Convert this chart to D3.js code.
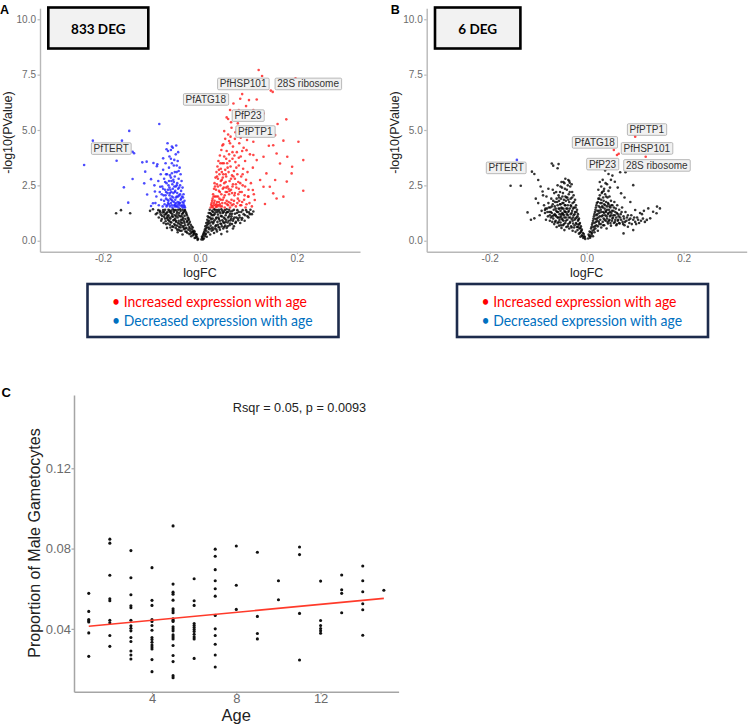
<!DOCTYPE html>
<html lang="en">
<head>
    <meta charset="UTF-8">
    <title>Volcano plots and gametocyte proportion</title>
    <script src="https://cdn.jsdelivr.net/npm/d3@7"></script>
    <style>
        body { margin: 0; background: #fff; }
    </style>
</head>
<body>
<script>
    // ---------- data: panel A (833 DEG), [logFC, -log10(PValue)] ----------
    let blackA = [
        [-0.004,0.08],[-0.006,0.15],[-0.008,0.22],[-0.009,0.3],[-0.011,0.12],[-0.012,0.35],[-0.013,0.45],[-0.014,0.25],[-0.015,0.6],[-0.016,0.38],
        [-0.017,0.52],[-0.018,0.2],[-0.019,0.72],[-0.02,0.44],[-0.021,0.85],[-0.022,0.3],[-0.022,0.62],[-0.023,0.95],[-0.024,0.5],[-0.025,1.05],
        [-0.025,0.72],[-0.026,0.35],[-0.027,1.15],[-0.027,0.85],[-0.028,0.58],[-0.029,1.28],[-0.03,0.98],[-0.03,0.42],[-0.031,1.38],[-0.031,0.7],
        [-0.032,1.12],[-0.033,0.88],[-0.033,0.52],[-0.034,1.3],[-0.035,1.02],[-0.035,0.65],[-0.036,1.4],[-0.037,0.8],[-0.037,1.2],[-0.038,0.45],
        [-0.039,0.95],[-0.04,1.34],[-0.04,0.6],[-0.041,1.1],[-0.042,0.75],[-0.043,1.25],[-0.044,0.9],[-0.044,0.5],[-0.045,1.4],[-0.046,1.05],
        [-0.047,0.68],[-0.048,1.22],[-0.049,0.85],[-0.05,1.38],[-0.05,0.58],[-0.051,1.0],[-0.052,1.15],[-0.053,0.75],[-0.054,1.3],[-0.055,0.92],
        [-0.056,1.42],[-0.057,0.65],[-0.058,1.1],[-0.059,0.82],[-0.06,1.25],[-0.061,1.0],[-0.062,0.72],[-0.063,1.36],[-0.064,0.9],[-0.065,1.15],
        [-0.066,0.78],[-0.067,1.3],[-0.068,1.02],[-0.07,1.2],[-0.071,0.88],[-0.072,1.4],[-0.074,1.08],[-0.075,0.8],[-0.077,1.28],[-0.079,0.98],
        [-0.081,1.18],[-0.083,1.35],[-0.085,1.05],[-0.088,1.25],[-0.091,1.2],[-0.068,0.58],[-0.058,0.48],[-0.046,0.38],[-0.036,0.28],
        [-0.005,0.04],[-0.007,0.28],[-0.009,0.14],[-0.011,0.42],[-0.013,0.3],[-0.015,0.42],[-0.017,0.64],[-0.019,0.33],[-0.021,0.55],[-0.023,0.78],
        [-0.024,1.0],[-0.026,0.9],[-0.028,1.22],[-0.028,0.4],[-0.03,0.55],[-0.032,0.8],[-0.032,1.35],[-0.034,0.6],[-0.036,0.95],[-0.038,1.1],
        [-0.039,0.7],[-0.041,0.45],[-0.041,1.42],[-0.043,0.62],[-0.045,0.8],[-0.047,1.3],[-0.047,0.5],[-0.049,1.1],[-0.051,0.7],[-0.053,1.38],
        [-0.053,0.95],[-0.055,0.62],[-0.057,1.2],[-0.059,1.35],[-0.061,0.6],[-0.061,0.85],[-0.063,1.05],[-0.065,1.4],[-0.066,0.95],[-0.069,1.25],
        [-0.07,0.75],[-0.072,1.0],[-0.073,1.18],[-0.076,1.38],[-0.078,1.12],[-0.08,0.9],[-0.082,1.28],[-0.086,1.38],[-0.05,0.9],[-0.044,1.15],
        [-0.04,0.85],[-0.035,1.25],[-0.056,1.08],[-0.062,1.3],[-0.067,1.1],[-0.074,1.3],
        [-0.173,1.24],[-0.163,1.38],[-0.144,1.24],[-0.103,1.35],[-0.097,1.42],
        [0.003,0.06],[0.005,0.14],[0.006,0.24],[0.008,0.1],[0.008,0.36],[0.01,0.5],[0.01,0.2],[0.011,0.65],[0.012,0.32],[0.013,0.8],
        [0.013,0.45],[0.014,0.18],[0.015,0.95],[0.015,0.6],[0.016,1.1],[0.017,0.38],[0.017,0.75],[0.018,1.25],[0.019,0.9],[0.019,0.52],
        [0.02,1.4],[0.021,1.05],[0.021,0.28],[0.022,0.68],[0.023,1.2],[0.024,0.85],[0.024,0.45],[0.025,1.35],[0.026,1.0],[0.026,0.6],
        [0.027,0.78],[0.028,1.15],[0.029,0.35],[0.029,1.42],[0.03,0.92],[0.031,0.55],[0.032,1.28],[0.033,0.7],[0.034,1.05],[0.035,0.42],
        [0.035,1.38],[0.036,0.85],[0.037,1.18],[0.038,0.62],[0.039,0.98],[0.04,1.32],[0.041,0.5],[0.042,0.78],[0.043,1.12],[0.044,1.42],
        [0.045,0.65],[0.046,0.92],[0.047,1.25],[0.048,0.55],[0.049,1.05],[0.05,0.8],[0.051,1.38],[0.052,0.68],[0.053,1.15],[0.054,0.95],
        [0.055,0.58],[0.056,1.3],[0.057,0.82],[0.058,1.05],[0.06,1.4],[0.061,0.7],[0.062,1.2],[0.063,0.92],[0.065,1.1],[0.066,0.75],
        [0.067,1.35],[0.069,0.98],[0.07,0.65],[0.072,1.22],[0.074,0.85],[0.075,1.05],[0.077,1.38],[0.079,0.92],[0.081,1.15],[0.083,0.8],
        [0.085,1.3],[0.087,1.02],[0.09,1.2],[0.092,0.9],[0.095,1.38],[0.098,1.1],[0.101,1.28],[0.104,1.4],[0.107,1.2],[0.11,1.32],
        [0.044,0.3],[0.056,0.42],[0.068,0.55],
        [0.004,0.18],[0.006,0.06],[0.007,0.3],[0.009,0.42],[0.011,0.28],[0.012,0.55],[0.014,0.7],[0.016,0.85],[0.018,0.6],[0.018,1.05],
        [0.02,0.8],[0.021,1.25],[0.023,0.55],[0.023,0.98],[0.025,1.15],[0.027,0.5],[0.027,1.3],[0.028,0.85],[0.03,1.2],[0.031,1.4],
        [0.032,0.65],[0.033,1.0],[0.034,0.5],[0.036,1.3],[0.037,0.72],[0.038,1.05],[0.039,1.4],[0.04,0.6],[0.041,0.9],[0.042,1.25],
        [0.044,0.75],[0.045,1.1],[0.046,1.35],[0.048,0.85],[0.049,1.3],[0.05,0.62],[0.051,1.0],[0.053,0.85],[0.054,1.25],[0.055,1.42],
        [0.057,0.65],[0.058,1.3],[0.059,0.9],[0.06,1.1],[0.062,0.78],[0.063,1.32],[0.064,1.0],[0.066,1.22],[0.068,0.9],[0.07,1.4],
        [0.071,1.05],[0.073,0.8],[0.076,1.25],[0.078,1.0],[0.08,1.3],[0.082,1.05],[0.086,0.95],[0.088,1.38],[0.093,1.15],[0.097,1.3],
        [0.1,1.05],[0.103,1.2]
    ];
    let redA = [
        [0.022,1.5],[0.024,1.7],[0.025,1.55],[0.026,1.9],[0.027,2.1],[0.028,1.6],[0.029,2.35],[0.03,1.8],[0.03,2.6],[0.031,2.0],
        [0.032,2.85],[0.033,1.52],[0.033,2.3],[0.034,3.1],[0.035,1.75],[0.035,2.55],[0.036,3.35],[0.037,2.0],[0.037,2.8],[0.038,1.6],
        [0.038,3.6],[0.039,2.25],[0.04,3.0],[0.04,1.9],[0.041,3.85],[0.042,2.5],[0.042,1.55],[0.043,3.25],[0.044,2.1],[0.044,4.1],
        [0.045,2.75],[0.046,1.7],[0.046,3.5],[0.047,2.35],[0.048,4.35],[0.048,3.0],[0.049,1.95],[0.05,2.6],[0.05,3.8],[0.051,1.5],
        [0.052,3.2],[0.052,4.6],[0.053,2.2],[0.054,2.9],[0.055,4.05],[0.055,1.8],[0.056,3.5],[0.057,2.45],[0.058,4.8],[0.058,1.6],
        [0.059,3.1],[0.06,2.1],[0.06,3.9],[0.061,2.7],[0.062,1.5],[0.062,4.4],[0.063,3.35],[0.064,2.3],[0.065,5.1],[0.065,1.85],
        [0.066,2.95],[0.067,3.7],[0.068,2.55],[0.068,4.25],[0.069,1.65],[0.07,3.15],[0.071,2.05],[0.072,4.6],[0.072,2.8],[0.073,3.55],
        [0.074,1.55],[0.075,2.4],[0.076,4.0],[0.077,3.0],[0.078,1.9],[0.078,5.3],[0.079,2.65],[0.08,3.4],[0.081,4.4],[0.082,2.2],
        [0.083,1.6],[0.084,3.8],[0.085,2.9],[0.086,4.9],[0.087,1.75],[0.088,2.5],[0.089,3.25],[0.09,4.2],[0.092,2.05],[0.093,3.6],
        [0.094,1.5],[0.095,2.75],[0.097,4.55],[0.098,3.1],[0.1,2.3],[0.102,1.7],[0.103,3.9],[0.105,2.6],[0.107,1.55],[0.109,3.3],
        [0.111,2.1],[0.034,1.65],[0.041,2.2],[0.047,1.85],[0.053,2.65],[0.059,2.35],[0.066,2.15],[0.071,3.85],[0.08,2.35],[0.063,4.7],
        [0.058,5.5],[0.05,4.95],[0.07,5.6],[0.076,5.0],[0.084,4.65],
        [0.023,1.62],[0.025,1.8],[0.027,1.5],[0.028,2.0],[0.029,1.7],[0.031,2.45],[0.032,1.6],[0.034,2.0],[0.035,2.9],[0.036,1.55],
        [0.037,2.45],[0.039,1.75],[0.039,3.2],[0.041,1.65],[0.043,2.7],[0.043,1.85],[0.045,1.55],[0.045,3.1],[0.047,2.85],[0.049,2.4],
        [0.049,3.5],[0.051,2.05],[0.052,1.7],[0.053,3.0],[0.054,2.4],[0.056,1.65],[0.056,2.2],[0.057,3.3],[0.059,1.75],[0.061,2.25],
        [0.061,3.6],[0.063,1.7],[0.064,2.8],[0.066,1.6],[0.067,2.45],[0.069,2.9],[0.07,1.8],[0.072,2.15],[0.074,2.55],[0.075,3.3],
        [0.077,1.7],[0.079,2.1],[0.081,1.8],[0.083,2.6],[0.085,1.6],[0.086,2.2],[0.088,3.0],[0.091,1.85],[0.093,2.45],[0.096,1.65],
        [0.099,2.0],[0.042,3.5],[0.046,4.3],[0.054,3.7],[0.06,4.5],[0.067,4.0],[0.073,4.9],[0.08,3.75],[0.087,4.05],[0.064,5.35],
        [0.121,7.71],[0.128,7.44],[0.104,7.23],[0.137,6.93],[0.146,6.78],[0.15,6.72],[0.087,6.62],[0.101,6.35],[0.117,6.38],[0.083,6.41],
        [0.069,6.2],[0.197,7.33],[0.178,5.48],[0.16,5.27],[0.131,5.75],[0.11,5.9],[0.095,6.08],[0.08,5.9],[0.062,5.9],[0.055,5.57],
        [0.107,5.57],[0.141,4.92],[0.155,4.77],[0.172,4.52],[0.142,4.29],[0.151,4.31],[0.203,4.47],[0.158,3.94],[0.18,3.79],[0.213,3.64],
        [0.19,3.34],[0.131,3.79],[0.117,3.64],[0.137,3.04],[0.155,2.74],[0.124,2.74],[0.179,2.67],[0.213,2.26],[0.151,2.14],[0.158,1.91],
        [0.172,1.99],[0.131,2.44],[0.113,1.84],[0.134,1.66],[0.109,2.29],[0.1,1.99],[0.144,2.44],[0.189,3.04],[0.165,3.49],[0.11,4.47],
        [0.124,4.85],[0.096,4.09],[0.11,3.87]
    ];
    let blueA = [
        [-0.031,1.5],[-0.032,1.8],[-0.033,1.6],[-0.034,2.1],[-0.035,1.5],[-0.036,2.4],[-0.036,1.75],[-0.037,2.0],[-0.038,2.7],[-0.038,1.55],
        [-0.039,2.25],[-0.04,3.0],[-0.04,1.85],[-0.041,2.5],[-0.042,1.6],[-0.042,3.3],[-0.043,2.05],[-0.044,2.8],[-0.044,1.5],[-0.045,2.35],
        [-0.046,3.6],[-0.046,1.75],[-0.047,2.6],[-0.048,2.0],[-0.048,3.1],[-0.049,1.55],[-0.05,2.45],[-0.05,3.9],[-0.051,1.85],[-0.052,2.9],
        [-0.052,2.2],[-0.053,1.6],[-0.054,3.4],[-0.054,2.65],[-0.055,1.95],[-0.056,2.35],[-0.056,4.2],[-0.057,1.5],[-0.058,3.05],[-0.058,2.0],
        [-0.059,2.7],[-0.06,1.7],[-0.06,3.7],[-0.061,2.3],[-0.062,1.55],[-0.062,2.95],[-0.063,2.05],[-0.064,3.3],[-0.065,1.8],[-0.065,2.5],
        [-0.066,4.05],[-0.067,2.15],[-0.068,1.6],[-0.068,3.0],[-0.069,2.6],[-0.07,1.9],[-0.071,3.5],[-0.072,2.3],[-0.073,1.65],[-0.074,2.8],
        [-0.075,2.05],[-0.076,3.2],[-0.077,1.55],[-0.078,2.45],[-0.08,1.85],[-0.081,3.0],[-0.083,2.2],[-0.085,1.6],[-0.086,2.7],[-0.088,3.45],
        [-0.09,2.0],[-0.092,1.7],[-0.094,2.5],[-0.043,1.72],[-0.047,2.15],[-0.051,1.65],[-0.055,2.75],[-0.059,1.85],[-0.063,2.4],[-0.066,1.7],
        [-0.07,2.2],[-0.053,3.65],[-0.049,4.3],[-0.045,4.0],[-0.06,4.1],
        [-0.032,1.55],[-0.034,1.7],[-0.035,1.95],[-0.037,1.6],[-0.039,1.9],[-0.041,1.7],[-0.041,2.1],[-0.043,2.4],[-0.045,1.65],[-0.045,2.0],
        [-0.047,1.55],[-0.048,2.5],[-0.049,1.95],[-0.05,1.7],[-0.051,2.25],[-0.052,1.55],[-0.053,2.45],[-0.054,1.75],[-0.055,2.15],[-0.057,1.8],
        [-0.057,2.55],[-0.058,1.6],[-0.059,2.2],[-0.06,2.85],[-0.061,1.9],[-0.062,2.15],[-0.064,1.65],[-0.064,2.7],[-0.066,2.3],[-0.067,1.85],
        [-0.069,1.55],[-0.071,2.05],[-0.072,2.65],[-0.074,1.8],[-0.076,2.35],[-0.079,2.1],[-0.052,3.1],[-0.048,3.4],[-0.058,3.5],[-0.044,3.15],
        [-0.063,3.8],[-0.07,3.0],
        [-0.221,4.52],[-0.239,3.42],[-0.172,3.61],[-0.161,4.52],[-0.146,4.96],[-0.139,4.02],[-0.136,3.95],[-0.157,2.41],[-0.148,1.72],[-0.139,2.79],
        [-0.084,5.27],[-0.119,3.54],[-0.11,3.57],[-0.113,3.12],[-0.115,2.59],[-0.109,2.09],[-0.101,2.78],[-0.096,3.51],[-0.089,3.36],[-0.093,2.22],
        [-0.097,1.69],[-0.101,1.57],[-0.067,4.4],[-0.069,4.13],[-0.058,4.25],[-0.076,3.72],[-0.082,2.44]
    ];
    // gene labels: name, label centre logFC, label centre -log10(PValue)
    let labelsA = [
        ["PfHSP101",0.089,7.08],["28S ribosome",0.223,7.08],["PfATG18",0.012,6.38],
        ["PfP23",0.099,5.65],["PfPTP1",0.114,4.93],["PfTERT",-0.183,4.16]
    ];

    // ---------- data: panel B (6 DEG) ----------
    let blackB = [
        [-0.003,0.08],[-0.005,0.2],[-0.007,0.12],[-0.008,0.35],[-0.01,0.5],[-0.01,0.25],[-0.012,0.65],[-0.012,0.4],[-0.013,0.18],[-0.014,0.8],
        [-0.015,0.55],[-0.016,1.0],[-0.016,0.32],[-0.017,0.72],[-0.018,1.2],[-0.018,0.9],[-0.019,0.48],[-0.02,1.4],[-0.02,0.62],[-0.021,1.05],
        [-0.022,1.6],[-0.022,0.8],[-0.023,0.4],[-0.024,1.3],[-0.024,1.85],[-0.025,0.95],[-0.026,0.6],[-0.026,1.5],[-0.027,2.05],[-0.027,1.15],
        [-0.028,0.78],[-0.029,1.7],[-0.029,0.45],[-0.03,1.35],[-0.03,2.2],[-0.031,0.98],[-0.032,1.55],[-0.032,0.65],[-0.033,1.9],[-0.033,1.2],
        [-0.034,2.45],[-0.034,0.85],[-0.035,1.45],[-0.036,1.75],[-0.036,0.55],[-0.037,1.05],[-0.037,2.1],[-0.038,1.3],[-0.038,0.75],[-0.039,1.6],
        [-0.04,1.95],[-0.04,0.95],[-0.041,1.2],[-0.041,2.3],[-0.042,0.62],[-0.042,1.45],[-0.043,1.8],[-0.043,1.05],[-0.044,0.8],[-0.044,2.0],
        [-0.045,1.3],[-0.045,1.6],[-0.046,0.48],[-0.046,2.6],[-0.047,1.15],[-0.047,1.85],[-0.048,0.9],[-0.048,1.45],[-0.049,2.15],[-0.049,0.7],
        [-0.05,1.25],[-0.05,1.7],[-0.051,1.0],[-0.051,2.4],[-0.052,0.58],[-0.052,1.5],[-0.053,1.9],[-0.053,1.1],[-0.054,0.82],[-0.054,1.35],
        [-0.055,2.2],[-0.055,1.65],[-0.056,0.95],[-0.056,1.2],[-0.057,0.68],[-0.057,1.8],[-0.058,1.45],[-0.058,2.05],[-0.059,1.05],[-0.06,0.8],
        [-0.06,1.6],[-0.061,1.3],[-0.062,0.62],[-0.062,1.9],[-0.063,1.1],[-0.064,1.45],[-0.064,0.9],[-0.065,1.75],[-0.066,1.2],[-0.067,0.75],
        [-0.067,2.15],[-0.068,1.4],[-0.069,1.0],[-0.07,1.65],[-0.071,0.85],[-0.072,1.25],[-0.073,1.9],[-0.074,1.05],[-0.075,1.5],[-0.076,0.9],
        [-0.077,1.3],[-0.079,1.7],[-0.08,1.1],[-0.082,1.45],[-0.084,0.95],[-0.086,1.25],[-0.088,1.6],[-0.09,2.05],[-0.093,1.35],[-0.036,2.7],
        [-0.044,2.8],[-0.052,2.65],[-0.06,2.5],[-0.07,2.3],[-0.031,2.55],
        [-0.004,0.15],[-0.006,0.3],[-0.009,0.2],[-0.011,0.45],[-0.013,0.58],[-0.014,0.35],[-0.015,0.75],[-0.017,0.95],[-0.018,0.62],[-0.019,1.1],
        [-0.021,0.75],[-0.021,1.3],[-0.023,1.0],[-0.023,1.5],[-0.025,0.7],[-0.025,1.2],[-0.026,1.75],[-0.028,1.05],[-0.028,1.45],[-0.029,0.9],
        [-0.03,1.95],[-0.031,1.25],[-0.031,0.6],[-0.033,1.6],[-0.034,1.05],[-0.035,2.2],[-0.035,0.8],[-0.037,1.35],[-0.038,1.85],[-0.039,0.65],
        [-0.039,1.15],[-0.04,1.45],[-0.042,1.95],[-0.043,0.9],[-0.043,1.3],[-0.044,1.6],[-0.046,1.05],[-0.046,1.35],[-0.047,0.75],[-0.048,1.7],
        [-0.049,1.2],[-0.05,2.0],[-0.05,0.95],[-0.051,1.45],[-0.052,1.2],[-0.053,0.7],[-0.054,1.65],[-0.055,1.05],[-0.056,1.45],[-0.057,1.95],
        [-0.058,0.85],[-0.059,1.3],[-0.06,1.05],[-0.061,1.75],[-0.063,1.35],[-0.064,1.15],[-0.065,0.85],[-0.066,1.55],[-0.068,1.15],[-0.069,1.8],
        [-0.071,1.1],[-0.072,1.55],[-0.074,1.3],[-0.076,1.15],[-0.078,1.5],[-0.081,1.3],[-0.085,1.45],[-0.045,2.35],[-0.039,2.5],[-0.054,2.45],
        [-0.063,2.2],[-0.048,2.65],
        [-0.157,2.48],[-0.136,2.48],[-0.113,3.12],[-0.108,3.01],[-0.1,2.74],[-0.122,1.28],[-0.108,1.01],[-0.1,1.7],[-0.091,2.22],[-0.086,1.39],
        [-0.072,3.49],[-0.069,3.39],[-0.058,3.46],[-0.06,3.27],[-0.038,2.74],[-0.035,2.62],[-0.095,2.45],[-0.083,2.0],[-0.079,2.35],[-0.105,1.9],
        [-0.115,0.95],[-0.097,1.15],
        [0.003,0.1],[0.005,0.22],[0.007,0.14],[0.008,0.38],[0.009,0.55],[0.01,0.28],[0.011,0.72],[0.012,0.45],[0.013,0.9],[0.013,0.2],
        [0.014,0.62],[0.015,1.1],[0.016,0.8],[0.016,0.38],[0.017,1.3],[0.018,0.98],[0.018,0.55],[0.019,1.5],[0.02,1.15],[0.02,0.7],
        [0.021,1.7],[0.022,0.9],[0.022,1.35],[0.023,0.45],[0.024,1.9],[0.024,1.05],[0.025,1.55],[0.026,0.75],[0.026,1.25],[0.027,2.05],
        [0.028,0.95],[0.028,1.7],[0.029,1.4],[0.03,0.6],[0.03,1.85],[0.031,1.1],[0.032,1.55],[0.032,2.2],[0.033,0.85],[0.034,1.3],
        [0.034,1.95],[0.035,1.0],[0.036,1.65],[0.036,0.7],[0.037,1.45],[0.038,2.1],[0.038,1.15],[0.039,0.9],[0.04,1.75],[0.04,1.3],
        [0.041,0.55],[0.042,1.55],[0.042,1.0],[0.043,1.95],[0.044,1.2],[0.044,0.78],[0.045,1.65],[0.046,1.4],[0.047,0.95],[0.047,2.0],
        [0.048,1.1],[0.049,1.5],[0.05,0.68],[0.05,1.8],[0.051,1.25],[0.052,0.9],[0.053,1.6],[0.054,1.05],[0.055,1.35],[0.056,0.8],
        [0.057,1.75],[0.058,1.15],[0.059,0.95],[0.06,1.45],[0.061,0.7],[0.062,1.25],[0.063,1.6],[0.064,0.9],[0.066,1.1],[0.067,1.4],
        [0.068,0.78],[0.07,1.2],[0.071,0.95],[0.073,1.5],[0.074,0.85],[0.076,1.1],[0.078,0.7],[0.08,1.3],[0.082,0.9],[0.085,1.15],
        [0.088,0.8],[0.09,1.0],[0.093,0.75],[0.096,0.95],[0.1,0.85],[0.104,1.05],[0.108,0.8],[0.112,0.9],[0.116,1.0],[0.12,0.85],
        [0.024,2.3],[0.03,2.45],[0.036,2.35],[0.042,2.55],[0.027,2.65],[0.045,2.25],
        [0.004,0.28],[0.006,0.42],[0.008,0.2],[0.01,0.62],[0.011,0.35],[0.012,0.8],[0.014,1.0],[0.015,0.5],[0.016,1.2],[0.017,0.65],
        [0.018,1.4],[0.019,0.85],[0.02,1.6],[0.021,1.0],[0.022,1.2],[0.023,1.75],[0.023,0.65],[0.025,1.35],[0.025,0.85],[0.026,1.9],
        [0.027,1.1],[0.028,1.5],[0.029,0.75],[0.03,1.3],[0.031,1.7],[0.031,2.15],[0.033,1.15],[0.033,1.5],[0.034,0.7],[0.035,1.8],
        [0.036,1.25],[0.037,0.95],[0.038,1.6],[0.039,1.35],[0.04,2.0],[0.041,1.1],[0.042,1.4],[0.043,0.85],[0.044,1.7],[0.045,1.25],
        [0.046,0.9],[0.047,1.55],[0.048,1.3],[0.049,0.8],[0.05,1.15],[0.051,1.6],[0.052,1.35],[0.053,1.0],[0.055,1.15],[0.056,1.5],
        [0.058,0.85],[0.059,1.3],[0.061,1.05],[0.062,0.75],[0.064,1.2],[0.065,0.95],[0.067,0.8],[0.069,1.05],[0.072,1.3],[0.075,0.75],
        [0.077,1.0],[0.079,0.85],[0.083,1.05],[0.087,0.95],[0.092,1.15],[0.098,1.05],[0.102,0.75],[0.106,0.95],[0.114,1.2],[0.035,2.25],
        [0.039,2.6],[0.033,2.75],[0.048,2.4],
        [0.038,3.17],[0.045,3.01],[0.053,2.94],[0.069,3.09],[0.08,3.09],[0.085,3.47],[0.096,2.51],[0.058,2.66],[0.071,2.14],[0.1,1.39],
        [0.127,1.46],[0.137,1.31],[0.144,1.24],[0.151,1.46],[0.145,1.54],[0.124,0.94],[0.131,1.01],[0.085,0.63],[0.096,0.48],[0.076,0.33],
        [0.064,2.4],[0.05,2.75],[0.078,1.95],[0.09,1.75],[0.11,1.25],[0.118,1.35]
    ];
    let redB = [[0.1,4.7],[0.056,4.1],[0.0625,3.87],[0.066,3.93],[0.1217,3.79]];
    let blueB = [[-0.144,3.65]];
    let labelsB = [
        ["PfPTP1",0.124,5.02],["PfATG18",0.0165,4.44],["PfHSP101",0.124,4.17],
        ["PfP23",0.0326,3.46],["28S ribosome",0.1445,3.4],["PfTERT",-0.166,3.29]
    ];

    // shared volcano axes
    let yTicksVolcano = [0, 2.5, 5, 7.5, 10];
    let xTicksVolcano = [-0.2, 0, 0.2];

    // ---------- data: panel C ----------
    let ages = [1,2,3,4,5,6,7,8,9,10,11,12,13,14,15];
    let maleProp = [
        [0.0577,0.0487,0.0447,0.044,0.0434,0.038,0.0263],
        [0.0847,0.0827,0.0667,0.055,0.054,0.0443,0.043,0.0367,0.0313],
        [0.079,0.0655,0.057,0.0515,0.0505,0.0443,0.0415,0.0403,0.039,0.0357,0.0337,0.029,0.027,0.025],
        [0.0705,0.0542,0.0517,0.0447,0.0437,0.0417,0.0393,0.0357,0.0347,0.0333,0.032,0.031,0.030,0.0247,0.0187],
        [0.0913,0.0623,0.0583,0.0573,0.0543,0.050,0.049,0.048,0.045,0.0443,0.0437,0.041,0.040,0.039,0.037,0.036,0.035,0.0317,0.0267,0.0237,0.0167,0.0157],
        [0.065,0.054,0.0517,0.0427,0.0417,0.0407,0.0397,0.0387,0.0373,0.036,0.035,0.0253],
        [0.0797,0.0762,0.0695,0.064,0.060,0.0563,0.0467,0.040,0.0367,0.0323,0.027,0.021],
        [0.0813,0.0617,0.0497],
        [0.0782,0.0462,0.0377,0.035],
        [0.064,0.0545],
        [0.0808,0.077,0.0477,0.0245],
        [0.0638,0.0442,0.0417,0.0402,0.039,0.0378],
        [0.0668,0.0595,0.0577,0.048],
        [0.0713,0.064,0.0585,0.0525,0.0495,0.0368],
        [0.0592]
    ];
    let fitAge = [1, 15];
    let fitProp = [0.0413, 0.0552];
    let xTicksAge = [4, 8, 12];
    let yTicksProp = [0.04, 0.08, 0.12];

    let sans = "'Liberation Sans', Arial, sans-serif";
    let office = "Lato, 'Open Sans', sans-serif";
    let axisGray = '#b8b8b8';
    let tickText = '#6b6b6b';

    let svg = d3.select('body').append('svg')
        .attr('width', 750)
        .attr('height', 726)
        .style('background-color', '#fff');

    // draw one volcano panel
    function volcano(left, letter, black, red, blue, labels, degText, degWidth, legendX) {
        let g = svg.append('g');
        let xScale = d3.scaleLinear().domain([-0.33, 0.33]).range([left, left + 320]);
        let yScale = d3.scaleLinear().domain([-0.5, 10.5]).range([251.8, 8.2]);

        let xAxis = g.append('g')
            .attr('transform', 'translate(0,' + 251.8 + ')')
            .call(d3.axisBottom(xScale).tickValues(xTicksVolcano)
                .tickFormat(d => d.toFixed(1)).tickSizeInner(2.5).tickSizeOuter(0).tickPadding(0.5));
        let yAxis = g.append('g')
            .attr('transform', 'translate(' + left + ',0)')
            .call(d3.axisLeft(yScale).tickValues(yTicksVolcano)
                .tickFormat(d => d.toFixed(1)).tickSizeInner(2.5).tickSizeOuter(0).tickPadding(1.5));
        [xAxis, yAxis].forEach(a => {
            a.select('.domain').attr('stroke', axisGray).attr('stroke-width', 1.4);
            a.selectAll('.tick line').attr('stroke', axisGray).attr('stroke-width', 1.2);
            a.selectAll('.tick text').attr('fill', tickText)
                .style('font-family', sans).style('font-size', '10px');
        });

        // points, grey first then coloured
        let layers = [[black, '#000'], [blue, '#1f1fff'], [red, '#ff1a1a']];
        layers.forEach(l => {
            g.append('g').selectAll('circle').data(l[0]).enter()
                .append('circle')
                .attr('cx', d => xScale(d[0]))
                .attr('cy', d => yScale(d[1]))
                .attr('r', 1.3)
                .attr('fill', l[1])
                .attr('fill-opacity', 0.8);
        });

        // gene labels
        labels.forEach(lb => {
            let lg = g.append('g');
            let t = lg.append('text')
                .attr('x', xScale(lb[1]))
                .attr('y', yScale(lb[2]))
                .attr('text-anchor', 'middle')
                .attr('dominant-baseline', 'central')
                .style('font-family', sans)
                .style('font-size', '10px')
                .attr('fill', '#333')
                .text(lb[0]);
            let bb = t.node().getBBox();
            lg.insert('rect', 'text')
                .attr('x', bb.x - 2.2).attr('y', bb.y - 0.3)
                .attr('width', bb.width + 4.4).attr('height', bb.height + 0.6)
                .attr('rx', 1.2)
                .attr('fill', '#f1f1f1')
                .attr('stroke', '#a8a8a8')
                .attr('stroke-width', 0.8);
        });

        // axis titles
        g.append('text')
            .attr('transform', 'translate(' + (left - 28) + ',132.5) rotate(-90)')
            .attr('text-anchor', 'middle')
            .style('font-family', sans).style('font-size', '12.5px')
            .attr('fill', '#222')
            .text('-log10(PValue)');
        g.append('text')
            .attr('x', xScale(0)).attr('y', 276.5)
            .attr('text-anchor', 'middle')
            .style('font-family', sans).style('font-size', '12.5px')
            .attr('fill', '#222')
            .text('logFC');

        // panel letter
        g.append('text')
            .attr('x', left - 40 + (letter === 'B' ? 4 : 0)).attr('y', 13.5)
            .style('font-family', sans).style('font-size', '12.5px').style('font-weight', 'bold')
            .text(letter);

        // DEG count box
        let bx = left + 8.3;
        g.append('rect')
            .attr('x', bx).attr('y', 7.5)
            .attr('width', degWidth).attr('height', 41)
            .attr('fill', '#f2f2f2')
            .attr('stroke', '#000')
            .attr('stroke-width', 2.6);
        g.append('text')
            .attr('x', bx + degWidth / 2).attr('y', 28.5)
            .attr('text-anchor', 'middle')
            .attr('dominant-baseline', 'central')
            .style('font-family', office).style('font-size', '13.5px').style('font-weight', 'bold')
            .text(degText);

        // colour key box under the panel
        g.append('rect')
            .attr('x', legendX).attr('y', 284)
            .attr('width', 251).attr('height', 53)
            .attr('fill', '#fff')
            .attr('stroke', '#1d2b4c')
            .attr('stroke-width', 2.6);
        g.append('text')
            .attr('x', legendX + 24.5).attr('y', 307.3)
            .attr('textLength', 195).attr('lengthAdjust', 'spacingAndGlyphs')
            .style('font-family', office).style('font-size', '15px')
            .attr('fill', '#ff0000')
            .text('\u2022 Increased expression with age');
        g.append('text')
            .attr('x', legendX + 24.5).attr('y', 326)
            .attr('textLength', 200.5).attr('lengthAdjust', 'spacingAndGlyphs')
            .style('font-family', office).style('font-size', '15px')
            .attr('fill', '#0070c0')
            .text('\u2022 Decreased expression with age');
    }

    volcano(40, 'A', blackA, redA, blueA, labelsA, '833 DEG', 100, 87.5);
    volcano(426.7, 'B', blackB, redB, blueB, labelsB, '6 DEG', 85.4, 457);

    // ---------- panel C ----------
    let gc = svg.append('g');
    let ageScale = d3.scaleLinear().domain([0.3, 15.7]).range([74, 398.6]);
    let propScale = d3.scaleLinear().domain([0.0087, 0.1565]).range([691.7, 395]);

    let axC = gc.append('g')
        .attr('transform', 'translate(0,691.7)')
        .call(d3.axisBottom(ageScale).tickValues(xTicksAge)
            .tickSizeInner(2.5).tickSizeOuter(0).tickPadding(0));
    let ayC = gc.append('g')
        .attr('transform', 'translate(74,0)')
        .call(d3.axisLeft(propScale).tickValues(yTicksProp)
            .tickFormat(d => d.toFixed(2)).tickSizeInner(2.5).tickSizeOuter(0).tickPadding(0.5));
    [axC, ayC].forEach(a => {
        a.select('.domain').attr('stroke', '#a5a5a5').attr('stroke-width', 1.5);
        a.selectAll('.tick line').attr('stroke', '#a5a5a5').attr('stroke-width', 1.2);
        a.selectAll('.tick text').attr('fill', tickText)
            .style('font-family', sans).style('font-size', '13px');
    });

    // flatten age groups into points
    let agePoints = [];
    ages.forEach((a, i) => maleProp[i].forEach(p => agePoints.push([a, p])));

    gc.append('g').selectAll('circle').data(agePoints).enter()
        .append('circle')
        .attr('cx', d => ageScale(d[0]))
        .attr('cy', d => propScale(d[1]))
        .attr('r', 1.55)
        .attr('fill', '#111');

    gc.append('line')
        .attr('x1', ageScale(fitAge[0])).attr('y1', propScale(fitProp[0]))
        .attr('x2', ageScale(fitAge[1])).attr('y2', propScale(fitProp[1]))
        .attr('stroke', '#ff3a2a')
        .attr('stroke-width', 1.6);

    gc.append('text')
        .attr('x', 299.5).attr('y', 412)
        .attr('text-anchor', 'middle')
        .style('font-family', sans).style('font-size', '12.7px')
        .attr('fill', '#222')
        .text('Rsqr = 0.05, p = 0.0093');

    gc.append('text')
        .attr('transform', 'translate(40,543) rotate(-90)')
        .attr('text-anchor', 'middle')
        .style('font-family', sans).style('font-size', '16px')
        .attr('fill', '#222')
        .text('Proportion of Male Gametocytes');
    gc.append('text')
        .attr('x', ageScale(8)).attr('y', 720.5)
        .attr('text-anchor', 'middle')
        .style('font-family', sans).style('font-size', '16.5px')
        .attr('fill', '#222')
        .text('Age');
    gc.append('text')
        .attr('x', 1.5).attr('y', 397)
        .style('font-family', sans).style('font-size', '13px').style('font-weight', 'bold')
        .text('C');
</script>
</body>
</html>
